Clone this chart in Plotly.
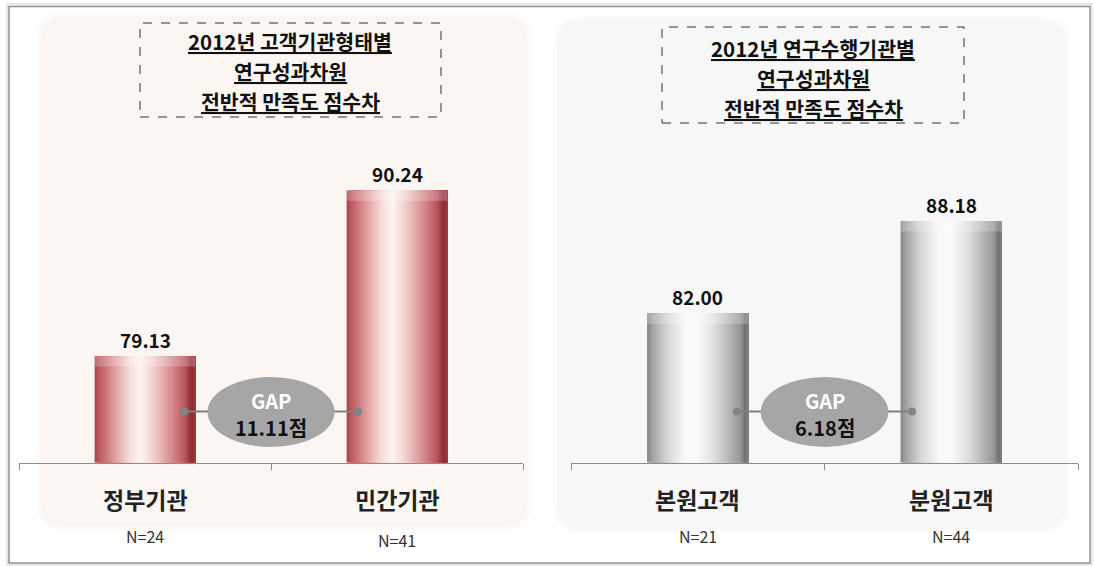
import plotly.graph_objects as go

# ---------------- data ----------------
left_title = ["2012년 고객기관형태별", "연구성과차원", "전반적 만족도 점수차"]
left_categories = ["정부기관", "민간기관"]
left_values = [79.13, 90.24]
left_n = ["N=24", "N=41"]

right_title = ["2012년 연구수행기관별", "연구성과차원", "전반적 만족도 점수차"]
right_categories = ["본원고객", "분원고객"]
right_values = [82.00, 88.18]
right_n = ["N=21", "N=44"]

# ---------------- style ----------------
W, H = 1094, 566
FONT = "Noto Sans CJK KR"
Y_RANGE = [72, 101.66]
BAR_W = 0.40
N_STRIPES = 44
BEVEL = 0.7  # height of the lighter top band, in axis units
TITLE_SIZE = 20.5
TITLE_STEP = 30  # px between title lines

RED_PROFILE = [
    (0.00, (168, 66, 72)), (0.05, (188, 92, 98)), (0.20, (224, 158, 158)),
    (0.35, (247, 222, 220)), (0.46, (253, 244, 241)), (0.60, (240, 202, 200)),
    (0.78, (212, 132, 135)), (0.90, (184, 84, 90)), (0.96, (140, 44, 50)),
    (1.00, (158, 58, 64)),
]
GRAY_PROFILE = [
    (0.00, (132, 132, 132)), (0.05, (162, 162, 162)), (0.20, (214, 214, 214)),
    (0.38, (249, 249, 249)), (0.50, (250, 250, 250)), (0.65, (226, 226, 226)),
    (0.80, (186, 186, 186)), (0.92, (150, 150, 150)), (0.97, (112, 112, 112)),
    (1.00, (132, 132, 132)),
]


def px(x):
    return x / W


def py(y):
    return 1 - y / H


def interp(profile, t):
    for (t0, c0), (t1, c1) in zip(profile[:-1], profile[1:]):
        if t0 <= t <= t1:
            f = (t - t0) / (t1 - t0) if t1 > t0 else 0
            c = [round(a + (b - a) * f) for a, b in zip(c0, c1)]
            return "rgb(%d,%d,%d)" % tuple(c)
    return "rgb(%d,%d,%d)" % profile[-1][1]


fig = go.Figure()


def add_bars(cats, vals, profile, xa, ya):
    for i in range(N_STRIPES):
        s = i / N_STRIPES
        fig.add_trace(go.Bar(
            x=cats, y=vals, xaxis=xa, yaxis=ya,
            offset=-BAR_W / 2 + BAR_W * s, width=BAR_W * (1 - s),
            marker=dict(color=interp(profile, s + 0.5 / N_STRIPES), line=dict(width=0)),
            hoverinfo="skip", showlegend=False,
        ))
    # lighter top band (bevel)
    fig.add_trace(go.Bar(
        x=cats, y=[BEVEL] * len(vals), base=[v - BEVEL for v in vals], xaxis=xa, yaxis=ya,
        offset=-BAR_W / 2, width=BAR_W,
        marker=dict(color="rgba(255,255,255,0.22)", line=dict(width=0)),
        hoverinfo="skip", showlegend=False,
    ))


add_bars(left_categories, left_values, RED_PROFILE, "x", "y")
add_bars(right_categories, right_values, GRAY_PROFILE, "x2", "y2")

shapes = []


def rounded_rect(x0, y0, x1, y1, r, fill):
    X0, X1 = px(x0), px(x1)
    Y0, Y1 = py(y0), py(y1)
    rx, ry = r / W, r / H
    path = (f"M {X0+rx},{Y0} L {X1-rx},{Y0} Q {X1},{Y0} {X1},{Y0-ry} "
            f"L {X1},{Y1+ry} Q {X1},{Y1} {X1-rx},{Y1} L {X0+rx},{Y1} "
            f"Q {X0},{Y1} {X0},{Y1+ry} L {X0},{Y0-ry} Q {X0},{Y0} {X0+rx},{Y0} Z")
    return dict(type="path", xref="paper", yref="paper", path=path,
                fillcolor=fill, line=dict(width=0), layer="below")


# outer frame
shapes.append(dict(type="rect", xref="paper", yref="paper", x0=px(7), x1=px(1092), y0=py(565), y1=py(4),
                   line=dict(color="#cfcfcf", width=1), layer="below"))
shapes.append(dict(type="rect", xref="paper", yref="paper", x0=px(9), x1=px(1090), y0=py(563), y1=py(6.5),
                   line=dict(color="#8f8f8f", width=1.5), layer="below"))
# panels
shapes.append(rounded_rect(36, 12, 532, 531, 30, "#fdfaf8"))
shapes.append(rounded_rect(40, 16, 528, 527, 26, "#fcf6f3"))
shapes.append(rounded_rect(553, 16, 1070, 533, 30, "#fbfbfb"))
shapes.append(rounded_rect(557, 20, 1066, 529, 26, "#f7f7f7"))

# title boxes
shapes.append(dict(type="rect", xref="paper", yref="paper", x0=px(140), x1=px(441), y0=py(117), y1=py(23),
                   line=dict(color="#333333", width=1, dash="dash"), fillcolor="rgba(0,0,0,0)"))
shapes.append(dict(type="rect", xref="paper", yref="paper", x0=px(662), x1=px(964), y0=py(123), y1=py(27),
                   line=dict(color="#333333", width=1, dash="dash"), fillcolor="rgba(0,0,0,0)"))

annotations = []


def title_ann(lines, xc, y_first):
    for k, t in enumerate(lines):
        annotations.append(dict(xref="paper", yref="paper", x=px(xc), y=py(y_first + k * TITLE_STEP),
                                text=f"<b><u>{t}</u></b>", showarrow=False,
                                xanchor="center", yanchor="middle", align="center",
                                font=dict(family=FONT, size=TITLE_SIZE, color="#111111")))


title_ann(left_title, 290, 41)
title_ann(right_title, 813, 48)

GAP_Y = 411.5  # pixel row of the GAP connector
DOT_IN = 0.155


def panel_decor(cats, vals, ns, xr, yr, n_ys):
    # value labels
    for c, v in zip(cats, vals):
        annotations.append(dict(xref=xr, yref=yr, x=c, y=v, text=f"<b>{v:.2f}</b>", showarrow=False,
                                xanchor="center", yanchor="middle", yshift=17,
                                font=dict(family=FONT, size=19, color="#111111")))
    # category and N labels
    for c, n, ny in zip(cats, ns, n_ys):
        annotations.append(dict(xref=xr, yref="paper", x=c, y=py(499), text=f"<b>{c}</b>", showarrow=False,
                                xanchor="center", yanchor="middle",
                                font=dict(family=FONT, size=23, color="#222222")))
        annotations.append(dict(xref=xr, yref="paper", x=c, y=py(ny), text=n, showarrow=False,
                                xanchor="center", yanchor="middle",
                                font=dict(family=FONT, size=16, color="#333333")))
    gap = round(vals[1] - vals[0], 2)
    mid = 0.5
    # connector line, ellipse, dots
    shapes.append(dict(type="line", xref=xr, yref="paper", x0=0 + DOT_IN, x1=1 - DOT_IN,
                       y0=py(GAP_Y), y1=py(GAP_Y), line=dict(color="#7f7f7f", width=2)))
    shapes.append(dict(type="circle", xref=xr, yref="paper", x0=mid - 0.252, x1=mid + 0.252,
                       y0=py(447), y1=py(377), fillcolor="#a6a6a6", line=dict(width=0)))
    for xd in (0 + DOT_IN, 1 - DOT_IN):
        shapes.append(dict(type="circle", xref=xr, yref="paper", x0=xd - 0.016, x1=xd + 0.016,
                           y0=py(GAP_Y + 4), y1=py(GAP_Y - 4), fillcolor="#7f8585", line=dict(width=0)))
    annotations.append(dict(xref=xr, yref="paper", x=mid, y=py(400), text="<b>GAP</b>", showarrow=False,
                            xanchor="center", yanchor="middle",
                            font=dict(family=FONT, size=20, color="white")))
    annotations.append(dict(xref=xr, yref="paper", x=mid, y=py(427), text=f"<b>{gap:.2f}점</b>",
                            showarrow=False, xanchor="center", yanchor="middle",
                            font=dict(family=FONT, size=20, color="#111111")))


panel_decor(left_categories, left_values, left_n, "x", "y", [536, 540])
panel_decor(right_categories, right_values, right_n, "x2", "y2", [536, 536])

axis_common = dict(type="category", showline=True, linecolor="#8c8c8c", linewidth=1,
                   ticks="outside", tickson="boundaries", ticklen=6, tickcolor="#8c8c8c",
                   showticklabels=False, showgrid=False, zeroline=False, range=[-0.5, 1.5],
                   fixedrange=True)
yaxis_common = dict(range=Y_RANGE, visible=False, showgrid=False, zeroline=False, fixedrange=True,
                    domain=[py(462.5), py(20)])

fig.update_layout(
    width=W, height=H, margin=dict(l=0, r=0, t=0, b=0),
    paper_bgcolor="white", plot_bgcolor="rgba(0,0,0,0)",
    barmode="overlay", showlegend=False,
    xaxis=dict(domain=[px(19), px(523)], anchor="y", **axis_common),
    yaxis=dict(anchor="x", **yaxis_common),
    xaxis2=dict(domain=[px(571), px(1078)], anchor="y2", **axis_common),
    yaxis2=dict(anchor="x2", **yaxis_common),
    shapes=shapes, annotations=annotations,
)

fig.write_html("out.html", config={"displayModeBar": False},
               post_script="document.body.style.margin='0';document.body.style.overflow='hidden';")
